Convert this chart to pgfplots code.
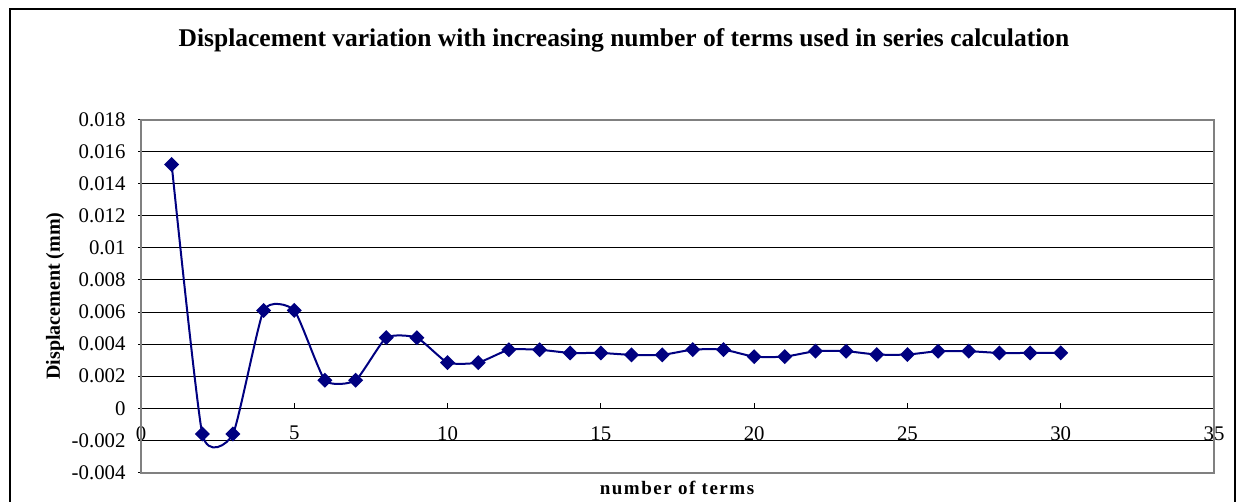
\documentclass[border=0pt]{standalone}
\usepackage{pgfplots}
\pgfplotsset{compat=1.18}
\usepackage{fontspec}
\setmainfont{Liberation Serif}
\definecolor{navy}{HTML}{000080}
\definecolor{pagray}{HTML}{808080}
\begin{document}
\begin{tikzpicture}
\useasboundingbox (-70.5bp,-14.75bp) rectangle (550bp,236.25bp);
\draw[line width=0.75bp] (-65.5bp,-30bp) -- (-65.5bp,231.75bp) -- (547bp,231.75bp) -- (547bp,-30bp);
\begin{axis}[
  at={(0,0)}, anchor=south west, scale only axis,
  width=536.5bp, height=176.5bp,
  xmin=0, xmax=35, ymin=-0.004, ymax=0.018,
  xtick={0,5,10,15,20,25,30,35},
  ytick={-0.004,-0.002,0,0.002,0.004,0.006,0.008,0.01,0.012,0.014,0.016,0.018},
  yticklabels={-0.004,-0.002,0,0.002,0.004,0.006,0.008,0.01,0.012,0.014,0.016,0.018},
  scaled y ticks=false,
  axis x line=middle, axis y line=left, axis line style={-},
  x axis line style={black, line width=0.6bp},
  y axis line style={pagray, line width=1bp},
  hide obscured x ticks=false,
  ymajorgrids, grid style={black, line width=0.5bp},
  major tick length=2.5bp,
  xtick align=inside,
  tick style={black, line width=0.5bp},
  /pgf/number format/assume math mode=true,
  tick label style={font=\fontsize{10.4bp}{12bp}\selectfont},
  yticklabel style={anchor=east, xshift=-3bp},
  xticklabel style={anchor=north, yshift=-5.5bp},
  clip=false,
]
\draw[pagray, line width=1bp] (rel axis cs:0,0) rectangle (rel axis cs:1,1);
\addplot[navy, line width=1bp, smooth, tension=0.32, mark=square*, mark size=2.15bp, mark options={fill=navy, draw=navy, rotate=45}]
  coordinates {
  (1,0.0152) (2,-0.0016) (3,-0.0016) (4,0.0061) (5,0.0061)
  (6,0.00175) (7,0.00175) (8,0.0044) (9,0.0044) (10,0.00285)
  (11,0.00285) (12,0.00365) (13,0.00365) (14,0.00345) (15,0.00345)
  (16,0.00333) (17,0.00333) (18,0.00366) (19,0.00366) (20,0.00322)
  (21,0.00322) (22,0.00356) (23,0.00356) (24,0.00335) (25,0.00335)
  (26,0.00356) (27,0.00356) (28,0.00345) (29,0.00345) (30,0.00345)
  };
\end{axis}
\node[font=\bfseries\fontsize{12.75bp}{15bp}\selectfont] at (241.5bp,216.25bp) {Displacement variation with increasing number of terms used in series calculation};
\node[font=\bfseries\fontsize{10bp}{12bp}\selectfont, rotate=90] at (-43bp,88.25bp) {Displacement (mm)};
\node[font=\bfseries\fontsize{9.5bp}{12bp}\selectfont\addfontfeature{LetterSpace=8}] at (268bp,-7.75bp) {number of terms};
\end{tikzpicture}
\end{document}
